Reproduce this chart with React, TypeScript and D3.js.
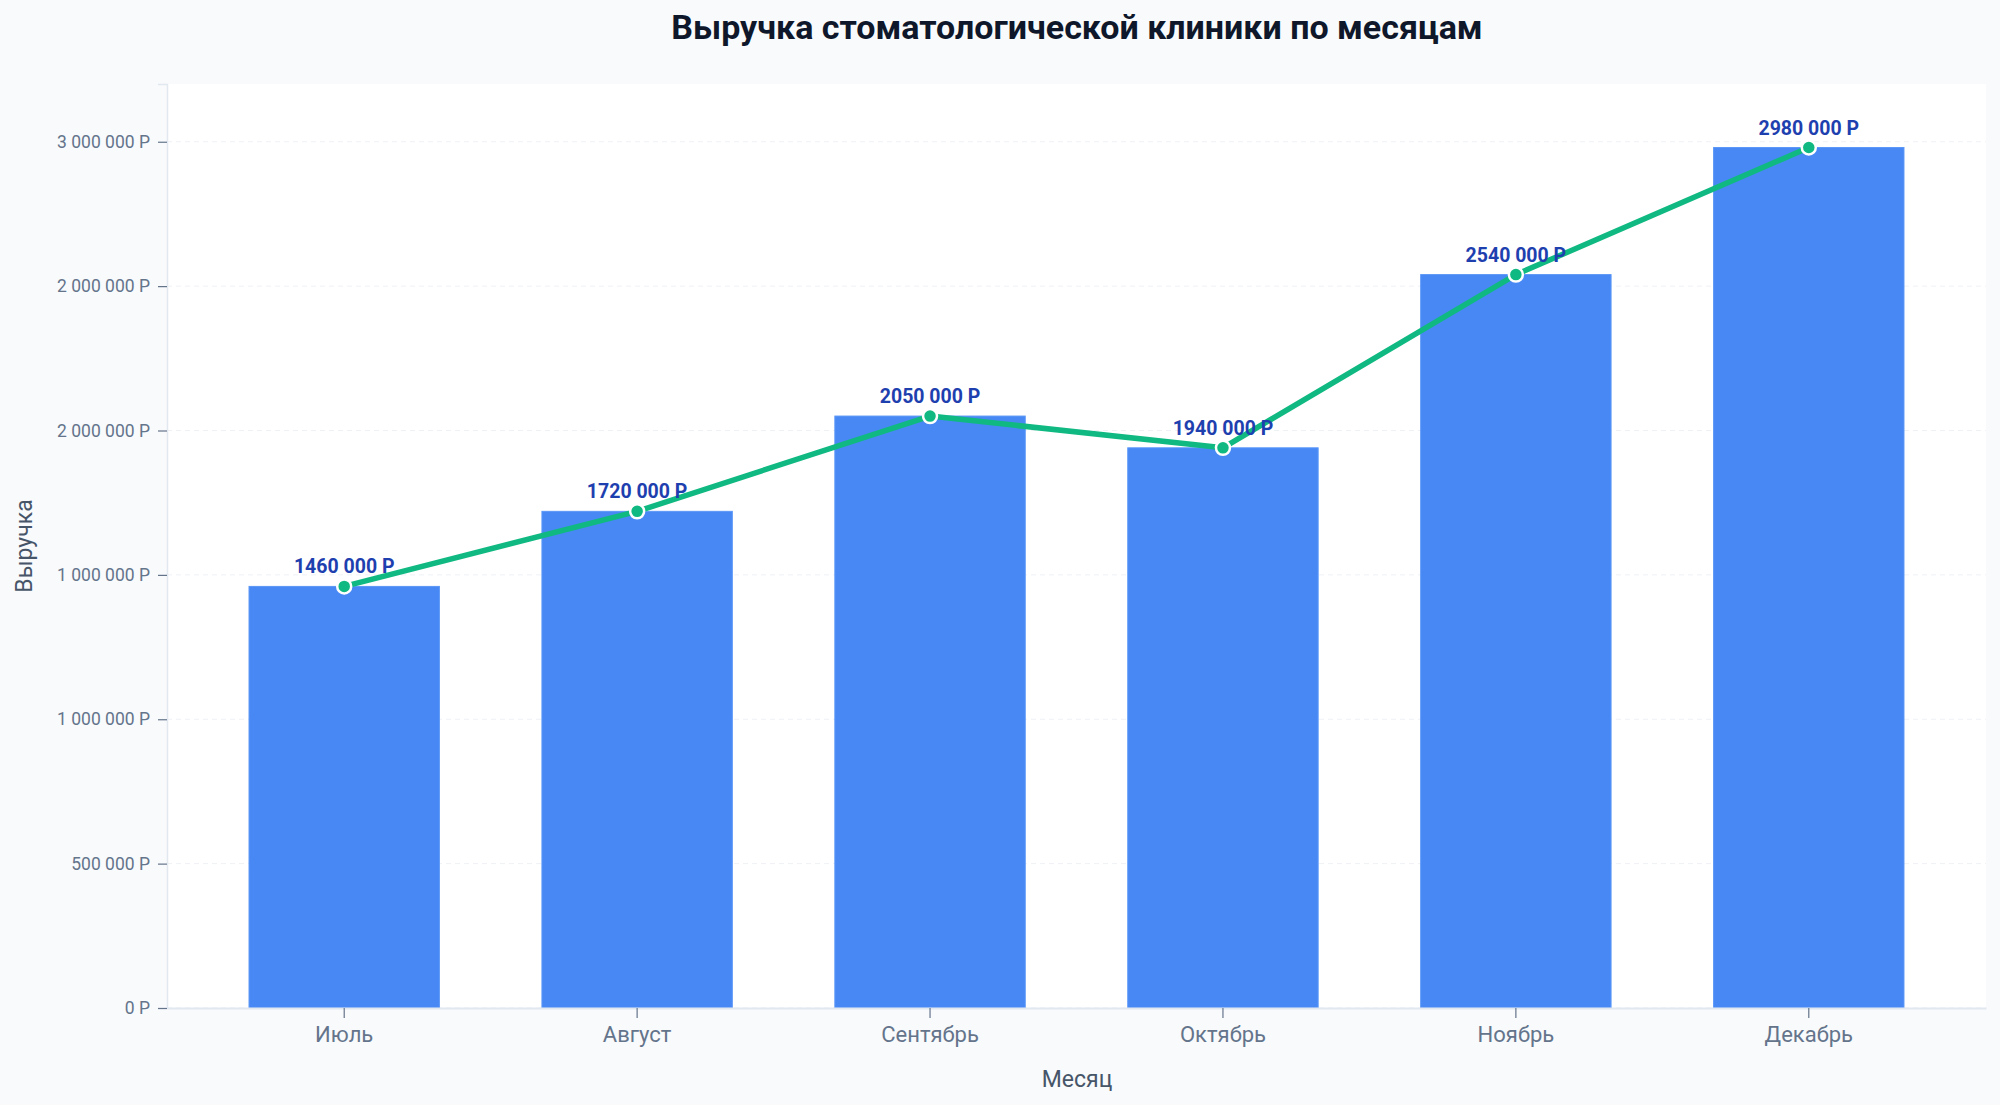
import React, { useEffect, useRef } from 'react';
import * as d3 from 'd3';

const months = ['Июль', 'Август', 'Сентябрь', 'Октябрь', 'Ноябрь', 'Декабрь'];
const revenue = [1460000, 1720000, 2050000, 1940000, 2540000, 2980000];
const yTickValues = [0, 500000, 1000000, 1500000, 2000000, 2500000, 3000000];
const yTickLabels = ['0 Р', '500 000 Р', '1 000 000 Р', '1 000 000 Р', '2 000 000 Р', '2 000 000 Р', '3 000 000 Р'];

const WIDTH = 2000;
const HEIGHT = 1105;
const FONT = 'Roboto, "Noto Sans", sans-serif';

const Chart: React.FC = () => {
  const ref = useRef<SVGSVGElement>(null);

  useEffect(() => {
    if (!ref.current) return;
    const svg = d3.select(ref.current);
    svg.selectAll('*').remove();

    const m = { top: 84, right: 14, bottom: 97, left: 167 };
    const x0 = m.left;
    const x1 = WIDTH - m.right;
    const y0 = HEIGHT - m.bottom;
    const y1 = m.top;

    svg.append('rect').attr('width', WIDTH).attr('height', HEIGHT).attr('fill', '#f8fafc');
    svg.append('rect').attr('x', x0).attr('y', y1).attr('width', x1 - x0).attr('height', y0 - y1).attr('fill', '#ffffff');

    const x = d3.scaleBand<string>().domain(months).range([x0, x1]).paddingInner(0.35).paddingOuter(0.28);
    const y = d3.scaleLinear().domain([0, 3200000]).range([y0, y1]);

    // grid
    svg
      .append('g')
      .selectAll('line')
      .data(yTickValues)
      .join('line')
      .attr('x1', x0)
      .attr('x2', x1)
      .attr('y1', (d) => y(d))
      .attr('y2', (d) => y(d))
      .attr('stroke', '#eef1f5')
      .attr('stroke-width', 1)
      .attr('stroke-dasharray', '5,4');

    // bars
    svg
      .append('g')
      .selectAll('rect')
      .data(revenue)
      .join('rect')
      .attr('x', (_, i) => x(months[i]) as number)
      .attr('y', (d) => y(d))
      .attr('width', x.bandwidth())
      .attr('height', (d) => y0 - y(d))
      .attr('fill', '#4788f5')
      .attr('stroke', '#5b97f7')
      .attr('stroke-width', 1);

    // axes
    const yAxis = svg
      .append('g')
      .attr('transform', `translate(${x0},0)`)
      .call(
        d3
          .axisLeft(y)
          .tickValues(yTickValues)
          .tickFormat((_, i) => yTickLabels[i])
          .tickSize(9)
          .tickPadding(8)
      );
    yAxis.select('.domain').attr('stroke', '#e2e8f0').attr('stroke-width', 1.5);
    yAxis.selectAll('.tick line').attr('stroke', '#64748b').attr('stroke-width', 1.2);
    yAxis.selectAll('.tick text').attr('fill', '#64748b').attr('font-size', 17.5).attr('font-family', FONT);

    const xAxis = svg
      .append('g')
      .attr('transform', `translate(0,${y0})`)
      .call(d3.axisBottom(x).tickSize(10).tickPadding(8).tickSizeOuter(0));
    xAxis.select('.domain').attr('stroke', '#e2e8f0').attr('stroke-width', 2);
    xAxis.selectAll('.tick line').attr('stroke', '#64748b').attr('stroke-width', 1.2);
    xAxis.selectAll('.tick text').attr('fill', '#64748b').attr('font-size', 22).attr('font-family', FONT);

    // line
    const cx = (i: number) => (x(months[i]) as number) + x.bandwidth() / 2;
    const line = d3
      .line<number>()
      .x((_, i) => cx(i))
      .y((d) => y(d));
    svg
      .append('path')
      .datum(revenue)
      .attr('fill', 'none')
      .attr('stroke', '#10b981')
      .attr('stroke-width', 5.5)
      .attr('stroke-linejoin', 'round')
      .attr('d', line);

    svg
      .append('g')
      .selectAll('circle')
      .data(revenue)
      .join('circle')
      .attr('cx', (_, i) => cx(i))
      .attr('cy', (d) => y(d))
      .attr('r', 7)
      .attr('fill', '#10b981')
      .attr('stroke', '#ffffff')
      .attr('stroke-width', 2.5);

    // value labels
    svg
      .append('g')
      .selectAll('text')
      .data(revenue)
      .join('text')
      .attr('x', (_, i) => cx(i))
      .attr('y', (d) => y(d) - 13)
      .attr('text-anchor', 'middle')
      .attr('font-family', FONT)
      .attr('font-weight', 700)
      .attr('font-size', 19.5)
      .attr('fill', '#1e40af')
      .text((d) => `${Math.round(d / 1000)} 000 Р`);

    // titles
    svg
      .append('text')
      .attr('x', 1077)
      .attr('y', 39)
      .attr('text-anchor', 'middle')
      .attr('font-family', FONT)
      .attr('font-weight', 700)
      .attr('font-size', 34)
      .attr('fill', '#0f172a')
      .text('Выручка стоматологической клиники по месяцам');

    svg
      .append('text')
      .attr('x', 1077)
      .attr('y', 1087)
      .attr('text-anchor', 'middle')
      .attr('font-family', FONT)
      .attr('font-size', 23)
      .attr('fill', '#475569')
      .text('Месяц');

    svg
      .append('text')
      .attr('transform', `translate(32,${(y0 + y1) / 2}) rotate(-90)`)
      .attr('text-anchor', 'middle')
      .attr('font-family', FONT)
      .attr('font-size', 23)
      .attr('fill', '#475569')
      .text('Выручка');
  }, []);

  return <svg ref={ref} width={WIDTH} height={HEIGHT} style={{ position: 'absolute', left: 0, top: 0 }}></svg>;
};

export default function App() {
  return <Chart />;
}
